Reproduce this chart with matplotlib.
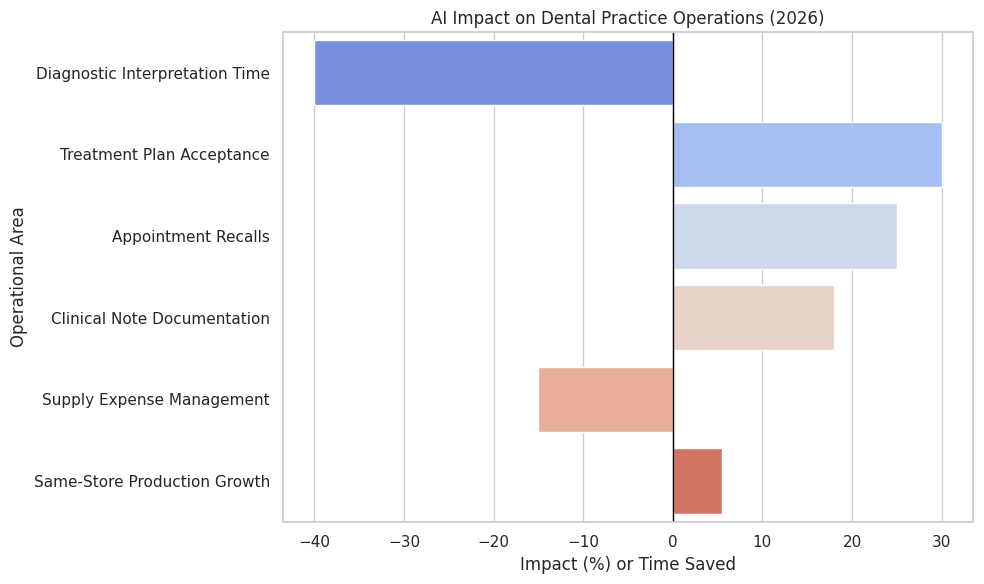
import matplotlib
matplotlib.use('Agg')
import matplotlib.pyplot as plt
import pandas as pd
import seaborn as sns

areas = ['Diagnostic Interpretation Time', 'Treatment Plan Acceptance', 'Appointment Recalls',
         'Clinical Note Documentation', 'Supply Expense Management', 'Same-Store Production Growth']
impact = [-40, 30, 25, 18, -15, 5.5]

frame = pd.DataFrame({'area': areas, 'impact': impact})

sns.set_theme(style='whitegrid')
plt.figure(figsize=(9.84, 5.84), dpi=100)
sns.barplot(data=frame, x='impact', y='area', hue='area', palette='coolwarm', legend=False)
plt.axvline(0, color='black', linewidth=1)
plt.title('AI Impact on Dental Practice Operations (2026)')
plt.xlabel('Impact (%) or Time Saved')
plt.ylabel('Operational Area')
plt.subplots_adjust(left=0.2876, right=0.9888, top=0.9452, bottom=0.1062)
plt.savefig('out.png', dpi=100)
